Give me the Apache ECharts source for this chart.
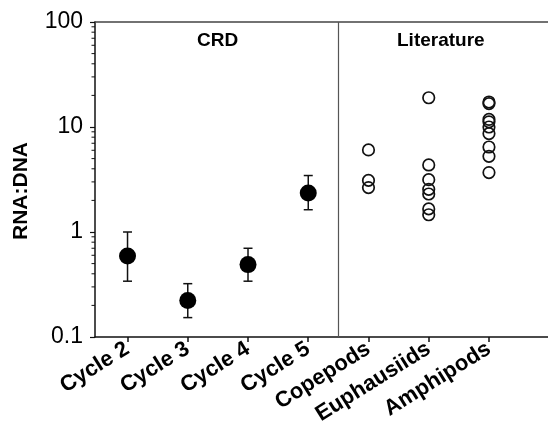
<!DOCTYPE html>
<html>
<head>
<meta charset="utf-8">
<script src="https://cdn.jsdelivr.net/npm/echarts@6/dist/echarts.min.js"></script>
<style>
  html, body { margin: 0; padding: 0; background: #fff; }
  #chart { width: 548px; height: 429px; }
</style>
</head>
<body>
<div id="chart"></div>
<script>
// categories along the x axis (positions 1..7)
const categories = ['Cycle 2', 'Cycle 3', 'Cycle 4', 'Cycle 5', 'Copepods', 'Euphausiids', 'Amphipods'];

// CRD cycles: mean and error bar ends
const crdMean = [0.59, 0.223, 0.489, 2.35];
const crdLow = [0.34, 0.153, 0.34, 1.63];
const crdHigh = [1.0, 0.322, 0.70, 3.45];

// literature values
const copepods = [6.05, 3.1, 2.65];
const euphausiids = [19, 4.35, 3.15, 2.55, 2.3, 1.66, 1.46];
const amphipods = [17.3, 16.7, 11.8, 11.2, 10.0, 8.65, 6.45, 5.26, 3.68];

const FONT = 'Liberation Sans, Arial, sans-serif';
const X_MIN = 0.46;
const X_MAX = 7.98;

// log minor ticks (2..9 in each decade)
const minorTicks = [];
[0.1, 1, 10].forEach(d => {
  for (let k = 2; k <= 9; k++) minorTicks.push(+(d * k).toPrecision(3));
});

const catPos = categories.map((c, i) => i + 1);
const crdPoints = crdMean.map((v, i) => [i + 1, v]);
const crdBars = crdMean.map((v, i) => [i + 1, crdLow[i], crdHigh[i]]);
const litPoints = [].concat(
  copepods.map(v => [5, v]),
  euphausiids.map(v => [6, v]),
  amphipods.map(v => [7, v])
);

const chart = echarts.init(document.getElementById('chart'));

chart.setOption({
  animation: false,
  backgroundColor: '#fff',
  grid: { left: 95, right: 0, top: 22, bottom: 92 },
  xAxis: [
    {
      type: 'value',
      min: X_MIN,
      max: X_MAX,
      position: 'bottom',
      splitLine: { show: false },
      axisLine: { show: true, onZero: false, lineStyle: { color: '#111', width: 1.5 } },
      axisTick: {
        show: true,
        customValues: catPos,
        length: 5,
        lineStyle: { color: '#111', width: 1.5 }
      },
      axisLabel: {
        customValues: catPos,
        formatter: v => categories[Math.round(v) - 1] || '',
        rotate: 32,
        margin: 10,
        color: '#000',
        fontFamily: FONT,
        fontWeight: 'bold',
        fontSize: 22
      }
    },
    {
      type: 'value',
      min: X_MIN,
      max: X_MAX,
      position: 'top',
      splitLine: { show: false },
      axisLine: { show: true, onZero: false, lineStyle: { color: '#444', width: 1.5 } },
      axisTick: { show: false },
      axisLabel: { show: false }
    }
  ],
  yAxis: {
    type: 'log',
    logBase: 10,
    min: 0.1,
    max: 100,
    name: 'RNA:DNA',
    nameLocation: 'middle',
    nameGap: 63,
    nameTextStyle: {
      fontFamily: FONT,
      fontWeight: 'bold',
      fontSize: 21,
      color: '#000',
      padding: [0, 23, 0, 0]
    },
    splitLine: { show: false },
    axisLine: { show: true, lineStyle: { color: '#111', width: 1.5 } },
    axisTick: { show: true, length: 5, lineStyle: { color: '#111', width: 1.2 } },
    minorTick: { show: false },
    axisLabel: {
      margin: 12,
      color: '#000',
      fontFamily: FONT,
      fontSize: 23,
      formatter: v => String(v)
    }
  },
  graphic: [
    {
      type: 'text',
      left: 217 - 20, top: 31,
      style: { text: 'CRD', fontFamily: FONT, fontWeight: 'bold', fontSize: 19, fill: '#000' }
    },
    {
      type: 'text',
      left: 444 - 47, top: 31,
      style: { text: 'Literature', fontFamily: FONT, fontWeight: 'bold', fontSize: 19, fill: '#000' }
    }
  ],
  series: [
    {
      // log minor ticks drawn through the y scale
      type: 'custom',
      silent: true,
      clip: false,
      data: minorTicks,
      encode: { y: 0 },
      renderItem: (params, api) => {
        const p = api.coord([X_MIN, api.value(0)]);
        return {
          type: 'line',
          shape: { x1: p[0] - 3.5, y1: p[1], x2: p[0], y2: p[1] },
          style: { stroke: '#111', lineWidth: 1 }
        };
      }
    },
    {
      // panel divider
      type: 'line',
      data: [],
      markLine: {
        silent: true,
        symbol: 'none',
        label: { show: false },
        lineStyle: { color: '#555', width: 1.2, type: 'solid' },
        data: [{ xAxis: 4.5 }]
      }
    },
    {
      // error bars
      type: 'custom',
      data: crdBars,
      encode: { x: 0, y: [1, 2] },
      z: 3,
      renderItem: (params, api) => {
        const x = api.value(0);
        const lo = api.coord([x, api.value(1)]);
        const hi = api.coord([x, api.value(2)]);
        const w = 4.5;
        const st = { stroke: '#111', lineWidth: 1.5 };
        return {
          type: 'group',
          children: [
            { type: 'line', shape: { x1: lo[0], y1: lo[1], x2: hi[0], y2: hi[1] }, style: st },
            { type: 'line', shape: { x1: lo[0] - w, y1: lo[1], x2: lo[0] + w, y2: lo[1] }, style: st },
            { type: 'line', shape: { x1: hi[0] - w, y1: hi[1], x2: hi[0] + w, y2: hi[1] }, style: st }
          ]
        };
      }
    },
    {
      name: 'CRD',
      type: 'scatter',
      data: crdPoints,
      symbol: 'circle',
      symbolSize: 17,
      z: 4,
      itemStyle: { color: '#000', opacity: 1 }
    },
    {
      name: 'Literature',
      type: 'scatter',
      data: litPoints,
      symbol: 'circle',
      symbolSize: 11.5,
      z: 4,
      itemStyle: { color: 'rgba(255,255,255,0)', borderColor: '#111', borderWidth: 1.7, opacity: 1 }
    }
  ]
});
</script>
</body>
</html>
